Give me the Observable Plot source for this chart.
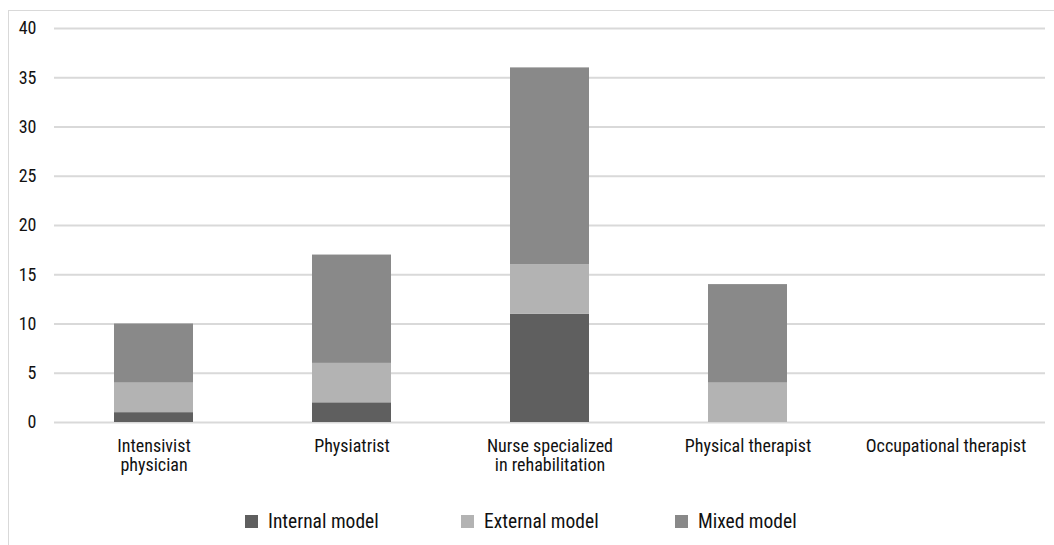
<!DOCTYPE html>
<html>
<head>
<meta charset="utf-8">
<script src="https://cdn.jsdelivr.net/npm/d3@7"></script>
<script src="https://cdn.jsdelivr.net/npm/@observablehq/plot@0.6"></script>
<style>
  html, body { margin: 0; padding: 0; background: #fff; }
  body { width: 1054px; height: 545px; position: relative; overflow: hidden;
         font-family: "Roboto Condensed", "Liberation Sans Narrow", "DejaVu Sans Condensed", "Roboto", sans-serif; }
  #frame { position: absolute; left: 8px; top: 10px; width: 1100px; height: 600px;
           border: 1px solid #d9d9d9; box-sizing: border-box; }
  #chart { position: absolute; left: 0; top: 0; }
  #legend { position: absolute; left: 0; top: 509px; width: 1054px; height: 24px; font-size: 19.5px; color: #111; }
  .item { position: absolute; top: 0; display: flex; align-items: center; height: 24px; white-space: nowrap; }
  .sw { width: 13px; height: 13px; margin-right: 10px; }
</style>
</head>
<body>
<div id="frame"></div>
<div id="chart"></div>
<div id="legend"></div>
<script>
const categories = ["Intensivist physician", "Physiatrist", "Nurse specialized in rehabilitation", "Physical therapist", "Occupational therapist"];
const categoryLabels = ["Intensivist\nphysician", "Physiatrist", "Nurse specialized\nin rehabilitation", "Physical therapist", "Occupational therapist"];
const seriesNames = ["Internal model", "External model", "Mixed model"];
const internalModel = [1, 2, 11, 0, 0];
const externalModel = [3, 4, 5, 4, 0];
const mixedModel = [6, 11, 20, 10, 0];
const seriesColors = ["#5f5f5f", "#b3b3b3", "#898989"];
const yTicks = [0, 5, 10, 15, 20, 25, 30, 35, 40];

const seriesValues = [internalModel, externalModel, mixedModel];
const data = [];
seriesNames.forEach((s, si) => {
  categories.forEach((c, ci) => {
    data.push({category: c, series: s, value: seriesValues[si][ci]});
  });
});
const labelOf = new Map(categories.map((c, i) => [c, categoryLabels[i]]));
const FONT = '"Roboto Condensed", "Liberation Sans Narrow", "DejaVu Sans Condensed", "Roboto", sans-serif';

const chart = Plot.plot({
  width: 1054,
  height: 480,
  marginTop: 28,
  marginBottom: 58,
  marginLeft: 54,
  marginRight: 9,
  style: {fontFamily: FONT, fontSize: "18px", color: "#111", background: "transparent"},
  x: {domain: categories, paddingInner: 0.6, paddingOuter: 0.3, label: null},
  y: {domain: [0, 40], label: null},
  color: {domain: seriesNames, range: seriesColors},
  marks: [
    Plot.gridY(yTicks, {stroke: "#d9d9d9", strokeOpacity: 1, strokeWidth: 2}),
    Plot.barY(data, {x: "category", y: "value", fill: "series", order: seriesNames}),
    Plot.axisY({ticks: yTicks, tickSize: 0, tickPadding: 18, fontSize: 18, label: null}),
    Plot.axisX({tickSize: 0, tickPadding: 15, fontSize: 18, label: null, lineHeight: 1.1, tickFormat: d => labelOf.get(d)})
  ]
});
document.getElementById("chart").appendChild(chart);

const legend = document.getElementById("legend");
const legendLefts = [245, 461, 675];
seriesNames.forEach((s, i) => {
  const item = document.createElement("div");
  item.className = "item";
  item.style.left = legendLefts[i] + "px";
  const sw = document.createElement("div");
  sw.className = "sw";
  sw.style.background = seriesColors[i];
  const t = document.createElement("span");
  t.textContent = s;
  item.appendChild(sw);
  item.appendChild(t);
  legend.appendChild(item);
});
</script>
</body>
</html>
